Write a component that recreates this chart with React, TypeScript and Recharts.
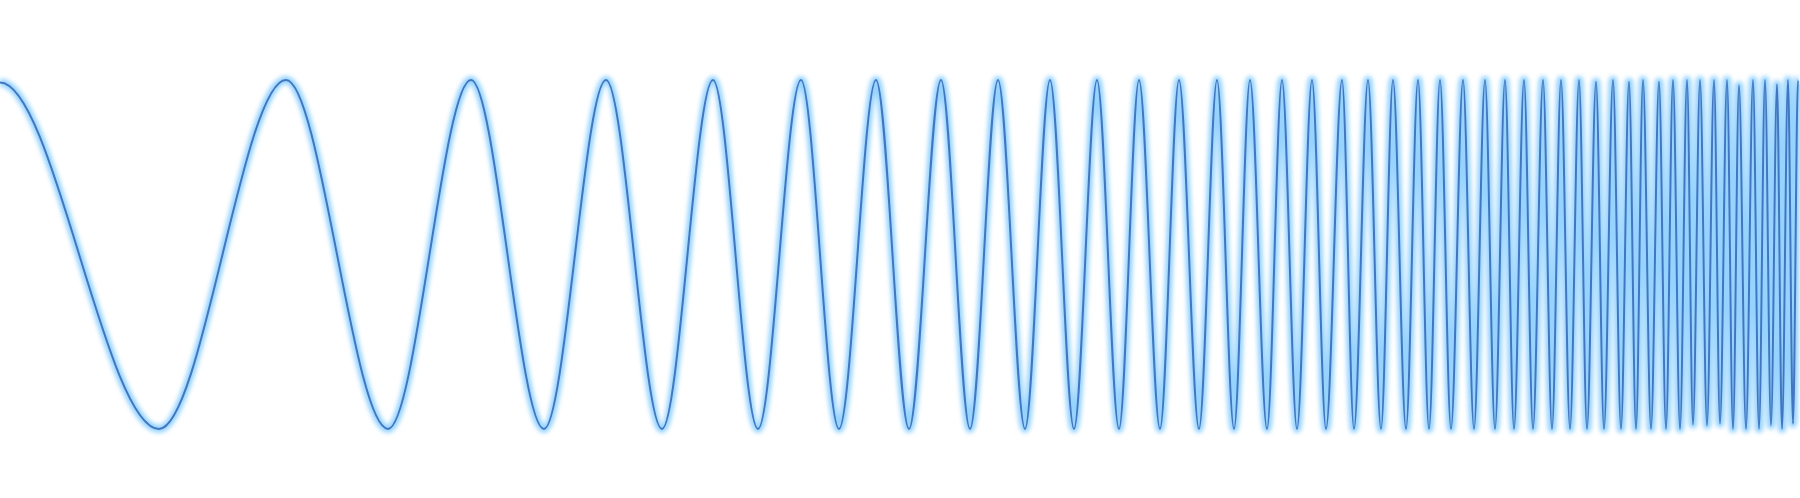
import { LineChart, Line, XAxis, YAxis } from 'recharts';

// positions of the crests and troughs (px along the sweep)
const crestX = [
  0, 286, 471, 606, 713, 801, 876, 941, 998, 1050, 1097, 1139, 1179, 1217, 1250, 1282, 1312,
  1342, 1368, 1393, 1418, 1440, 1463, 1485, 1505, 1524, 1543, 1561, 1579, 1596, 1613, 1629,
  1643, 1659, 1673, 1687, 1700, 1714, 1727, 1739, 1753, 1765, 1777, 1788, 1798,
];
const crestY = [
  0.985, 1, 1, 1, 1, 1, 1, 1, 1, 1, 1, 1, 1, 1, 1, 1, 1,
  1, 1, 1, 1, 1, 1, 1, 1, 1, 1, 1, 1, 0.99, 1, 0.99,
  1, 0.99, 1, 1, 1, 1, 1, 0.97, 1, 1, 0.975, 1, 1,
];
const troughX = [
  159, 388, 544, 662, 758, 839, 909, 970, 1025, 1074, 1119, 1160, 1199, 1234, 1267, 1297,
  1326, 1354, 1381, 1406, 1429, 1451, 1474, 1495, 1514, 1533, 1552, 1570, 1587, 1604, 1621,
  1636, 1651, 1666, 1680, 1693, 1707, 1720, 1733, 1746, 1759, 1771, 1782, 1793,
];
const troughY = [
  -1, -1, -1, -1, -1, -1, -1, -1, -1, -1, -1, -1, -1, -1, -1, -1,
  -1, -1, -1, -1, -1, -1, -1, -1, -1, -1, -1, -1, -1, -1, -1,
  -1, -1, -1, -1, -0.975, -0.98, -0.97, -1, -1, -1, -0.98, -1, -0.97,
];

const data = [
  ...crestX.map((t, i) => ({ t, v: crestY[i] })),
  ...troughX.map((t, i) => ({ t, v: troughY[i] })),
].sort((a, b) => a.t - b.t);

// smooth curve that is flat at every point (crests/troughs), also at the ends
const flatCurve = (ctx: any) => {
  let x0 = 0;
  let y0 = 0;
  let n = 0;
  return {
    areaStart() {},
    areaEnd() {},
    lineStart() {
      n = 0;
    },
    lineEnd() {},
    point(x: number, y: number) {
      x = +x;
      y = +y;
      if (n === 0) ctx.moveTo(x, y);
      else {
        const dx = (x - x0) / 3;
        ctx.bezierCurveTo(x0 + dx, y0, x - dx, y, x, y);
      }
      x0 = x;
      y0 = y;
      n++;
    },
  };
};

export default function App() {
  return (
    <div style={{ position: 'absolute', left: 0, top: 0, background: '#fff' }}>
      <LineChart width={1800} height={498} data={data} margin={{ top: 0, right: 0, bottom: 0, left: 0 }}>
        <defs>
          <filter id="glow" x="-10%" y="-10%" width="120%" height="120%">
            <feGaussianBlur stdDeviation="2" />
          </filter>
        </defs>
        <XAxis dataKey="t" type="number" domain={[0, 1800]} hide />
        <YAxis type="number" domain={[-1.396, 1.458]} hide />
        <Line
          type={flatCurve as any}
          dataKey="v"
          stroke="#74c6ff"
          strokeWidth={8}
          strokeOpacity={0.75}
          filter="url(#glow)"
          dot={false}
          activeDot={false}
          isAnimationActive={false}
        />
        <Line
          type={flatCurve as any}
          dataKey="v"
          stroke="#4276c0"
          strokeWidth={2}
          dot={false}
          activeDot={false}
          isAnimationActive={false}
        />
      </LineChart>
    </div>
  );
}
